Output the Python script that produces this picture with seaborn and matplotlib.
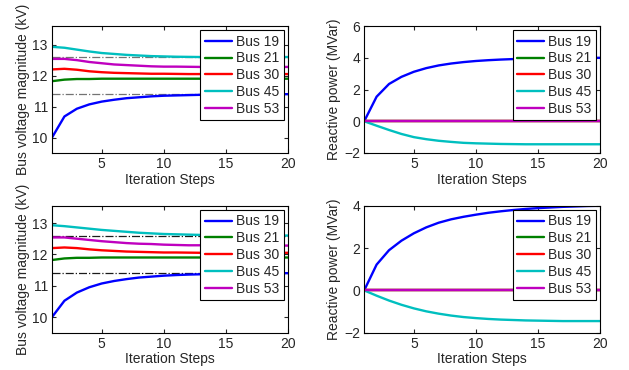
import numpy as np
import pandas as pd
import matplotlib
matplotlib.use("Agg")
import matplotlib.pyplot as plt
import seaborn as sns

steps = list(range(1, 21))
buses = ["Bus 19", "Bus 21", "Bus 30", "Bus 45", "Bus 53"]
colors = ["#0000ff", "#008000", "#ff0000", "#00bfbf", "#bf00bf"]

# Top row: voltage (kV)
v_top_19 = [10.0, 10.68, 10.93, 11.07, 11.16, 11.22, 11.27, 11.30, 11.33, 11.35,
            11.36, 11.37, 11.38, 11.385, 11.39, 11.393, 11.396, 11.398, 11.4, 11.4]
v_top_21 = [11.82, 11.87, 11.89, 11.89, 11.9, 11.9, 11.9, 11.9, 11.9, 11.9,
            11.9, 11.9, 11.9, 11.9, 11.9, 11.9, 11.9, 11.9, 11.9, 11.9]
v_top_30 = [12.2, 12.22, 12.19, 12.14, 12.11, 12.09, 12.08, 12.07, 12.06, 12.06,
            12.055, 12.05, 12.05, 12.05, 12.05, 12.05, 12.05, 12.05, 12.05, 12.05]
v_top_45 = [12.93, 12.9, 12.84, 12.78, 12.73, 12.70, 12.67, 12.65, 12.63, 12.62,
            12.61, 12.605, 12.6, 12.6, 12.6, 12.6, 12.6, 12.6, 12.6, 12.6]
v_top_53 = [12.54, 12.54, 12.5, 12.44, 12.4, 12.36, 12.34, 12.32, 12.30, 12.29,
            12.29, 12.285, 12.28, 12.28, 12.28, 12.28, 12.28, 12.28, 12.28, 12.28]

# Bottom row: voltage (kV)
v_bot_19 = [10.0, 10.52, 10.78, 10.95, 11.07, 11.15, 11.21, 11.26, 11.29, 11.32,
            11.34, 11.355, 11.365, 11.375, 11.38, 11.385, 11.39, 11.395, 11.4, 11.4]
v_bot_21 = [11.82, 11.87, 11.89, 11.89, 11.9, 11.9, 11.9, 11.9, 11.9, 11.9,
            11.9, 11.9, 11.9, 11.9, 11.9, 11.9, 11.9, 11.9, 11.9, 11.9]
v_bot_30 = [12.2, 12.22, 12.2, 12.16, 12.13, 12.11, 12.09, 12.08, 12.07, 12.06,
            12.06, 12.055, 12.05, 12.05, 12.05, 12.05, 12.05, 12.05, 12.05, 12.05]
v_bot_45 = [12.93, 12.9, 12.86, 12.82, 12.78, 12.75, 12.72, 12.69, 12.67, 12.65,
            12.64, 12.63, 12.62, 12.61, 12.605, 12.6, 12.6, 12.6, 12.6, 12.6]
v_bot_53 = [12.54, 12.54, 12.5, 12.46, 12.42, 12.39, 12.36, 12.34, 12.33, 12.31,
            12.30, 12.29, 12.29, 12.285, 12.28, 12.28, 12.28, 12.28, 12.28, 12.28]

# Top row: reactive power (MVar)
q_top_19 = [0.0, 1.55, 2.35, 2.8, 3.12, 3.35, 3.52, 3.64, 3.73, 3.8,
            3.85, 3.89, 3.92, 3.94, 3.96, 3.97, 3.98, 3.99, 4.0, 4.0]
q_top_45 = [0.0, -0.28, -0.55, -0.8, -1.0, -1.13, -1.23, -1.3, -1.36, -1.39,
            -1.41, -1.43, -1.44, -1.45, -1.45, -1.45, -1.45, -1.45, -1.45, -1.45]
# Bottom row: reactive power (MVar)
q_bot_19 = [0.0, 1.22, 1.9, 2.35, 2.7, 2.98, 3.2, 3.36, 3.48, 3.58,
            3.67, 3.74, 3.8, 3.85, 3.89, 3.92, 3.95, 3.97, 3.99, 4.0]
q_bot_45 = [0.0, -0.25, -0.48, -0.68, -0.85, -0.99, -1.1, -1.19, -1.26, -1.31,
            -1.35, -1.38, -1.4, -1.42, -1.43, -1.44, -1.45, -1.45, -1.45, -1.45]
q_zero = [0.0] * 20

ref_levels = [12.6, 11.4]


def frame(series):
    rows = []
    for name, vals in zip(buses, series):
        for s, v in zip(steps, vals):
            rows.append({"step": s, "value": v, "bus": name})
    return pd.DataFrame(rows)


sns.set_style("ticks")
plt.rcParams["font.family"] = ["Liberation Sans", "DejaVu Sans"]
plt.rcParams["font.size"] = 10

fig = plt.figure(figsize=(6.29, 3.70), dpi=100)
lx, rx, w = 0.0827, 0.579, 0.375
top_b, bot_b, h = 0.5865, 0.1008, 0.343
ax_tl = fig.add_axes([lx, top_b, w, h])
ax_tr = fig.add_axes([rx, top_b, w, h])
ax_bl = fig.add_axes([lx, bot_b, w, h])
ax_br = fig.add_axes([rx, bot_b, w, h])

panels = [
    (ax_tl, [v_top_19, v_top_21, v_top_30, v_top_45, v_top_53], "Bus voltage magnitude (kV)", (9.5, 13.6), [10, 11, 12, 13], "0.45"),
    (ax_bl, [v_bot_19, v_bot_21, v_bot_30, v_bot_45, v_bot_53], "Bus voltage magnitude (kV)", (9.5, 13.55), [10, 11, 12, 13], "0.1"),
    (ax_tr, [q_top_19, q_zero, q_zero, q_top_45, q_zero], "Reactive power (MVar)", (-2, 6), [-2, 0, 2, 4, 6], None),
    (ax_br, [q_bot_19, q_zero, q_zero, q_bot_45, q_zero], "Reactive power (MVar)", (-2, 4), [-2, 0, 2, 4], None),
]

for ax, series, ylabel, ylim, yticks, refc in panels:
    df = frame(series)
    if refc is not None:
        for lvl in ref_levels:
            ax.axhline(lvl, color=refc, lw=0.9, ls="-.", zorder=1)
    sns.lineplot(data=df, x="step", y="value", hue="bus", palette=colors,
                 lw=1.7, ax=ax, legend=True, zorder=2)
    ax.set_xlim(1, 20)
    ax.set_ylim(*ylim)
    ax.set_xticks([5, 10, 15, 20])
    ax.set_yticks(yticks)
    ax.set_yticklabels([("\u2212" + str(-t)) if t < 0 else str(t) for t in yticks])
    ax.set_xlabel("Iteration Steps", fontsize=10, labelpad=1)
    ax.set_ylabel(ylabel, fontsize=10, labelpad=2)
    ax.tick_params(direction="in", top=True, right=True, length=3, labelsize=10, pad=3)
    for sp in ax.spines.values():
        sp.set_linewidth(0.8)
        sp.set_color("black")
    leg = ax.legend(loc="upper right", fontsize=10, frameon=True, fancybox=False,
                    edgecolor="black", framealpha=1, handlelength=1.95,
                    labelspacing=0.2, borderpad=0.32, handletextpad=0.3,
                    borderaxespad=0.3)
    leg.get_frame().set_linewidth(0.8)
    for line in leg.get_lines():
        line.set_linewidth(1.7)

fig.savefig("out.png", dpi=100)
